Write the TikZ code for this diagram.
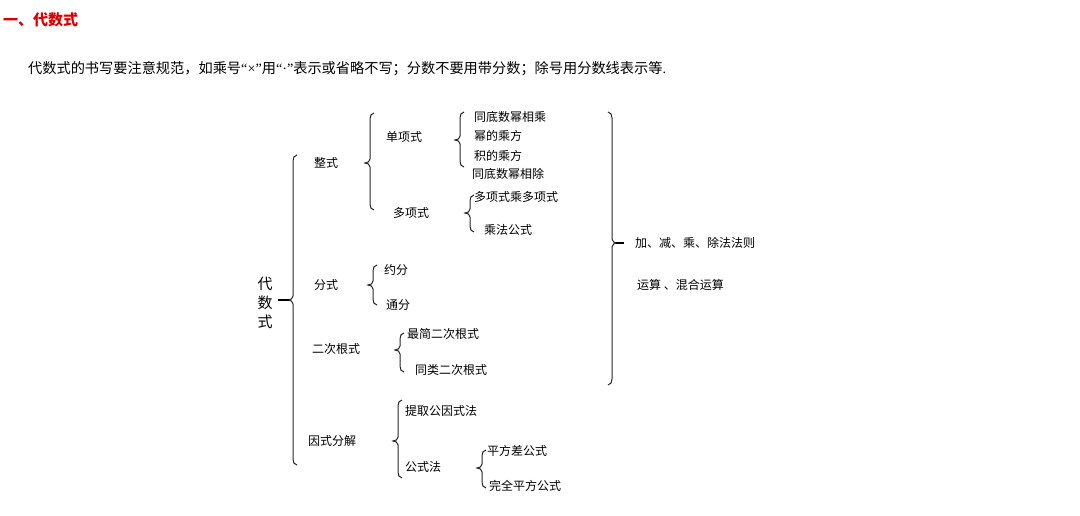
\documentclass[tikz,border=0pt]{standalone}
\usepackage{fontspec}
\setmainfont{Liberation Serif}
\newfontfamily\cjk{Noto Sans CJK SC}
\newfontfamily\latf{Liberation Serif}
\begin{document}
\begin{tikzpicture}[x=1pt,y=-1pt,
  lab/.style={anchor=west,inner sep=0pt,font=\cjk\fontsize{12}{12}\selectfont},
  br/.style={line width=1pt,gray!30!black}]
\useasboundingbox (0,0) rectangle (1080,516);
\newcommand\mybr[4]{\draw[br] (#1+4,#2) to[out=180,in=90] (#1,#2+6) -- (#1,#3-4) to[out=-90,in=0] (#1-5,#3) to[out=0,in=90] (#1,#3+4) -- (#1,#4-6) to[out=-90,in=180] (#1+4,#4);}
\node[anchor=west,inner sep=0pt,text=red!85!black,font=\cjk\bfseries\fontsize{15}{15}\selectfont] (t) at (3,20) {一、代数式};
\node[anchor=west,inner sep=0pt,font=\cjk\fontsize{14.2}{14}\selectfont] (d) at (28,69) {代数式的书写要注意规范，如乘号{\latf “×”}用{\latf “·”}表示或省略不写；分数不要用带分数；除号用分数线表示等{\latf .}};
\node[inner sep=0pt,font=\cjk\fontsize{15}{15}\selectfont,align=center] (r) at (265,303) {代\\[4pt]数\\[4pt]式};
\mybr{293}{155}{300}{465}
\draw[line width=2.5pt] (278,300) -- (289,300);
\node[lab] (zs) at (314,163) {整式};
\mybr{370}{113}{163}{210}
\node[lab] (dx) at (386,137) {单项式};
\mybr{460}{112}{140}{167}
\node[lab] at (474,117) {同底数幂相乘};
\node[lab] at (474,136) {幂的乘方};
\node[lab] at (474,156) {积的乘方};
\node[lab] at (472,174) {同底数幂相除};
\node[lab] (dxs) at (393,213) {多项式};
\mybr{470}{195}{213}{232}
\node[lab] at (474,197) {多项式乘多项式};
\node[lab] at (484,230) {乘法公式};
\node[lab] (fs) at (314,285) {分式};
\mybr{373}{265}{285}{305}
\node[lab] at (384,270) {约分};
\node[lab] at (386,305) {通分};
\node[lab] (ec) at (312,349) {二次根式};
\mybr{400}{333}{350}{372}
\node[lab] at (407,334) {最简二次根式};
\node[lab] at (415,370) {同类二次根式};
\node[lab] (ys) at (308,441) {因式分解};
\mybr{398}{400}{441}{478}
\node[lab] at (405,411) {提取公因式法};
\node[lab] (gs) at (405,467) {公式法};
\mybr{482}{450}{468}{488}
\node[lab] at (487,451) {平方差公式};
\node[lab] at (489,486) {完全平方公式};
\draw[br] (608,112) to[out=0,in=90] (612,118) -- (612,239) to[out=-90,in=180] (617,243) to[out=180,in=90] (612,247) -- (612,379) to[out=-90,in=0] (608,385);
\draw[line width=2.5pt] (616,243) -- (624,243);
\node[lab] at (635,243) {加、减、乘、除法法则};
\node[lab] at (637,285) {运算 、混合运算};
\end{tikzpicture}
\end{document}
